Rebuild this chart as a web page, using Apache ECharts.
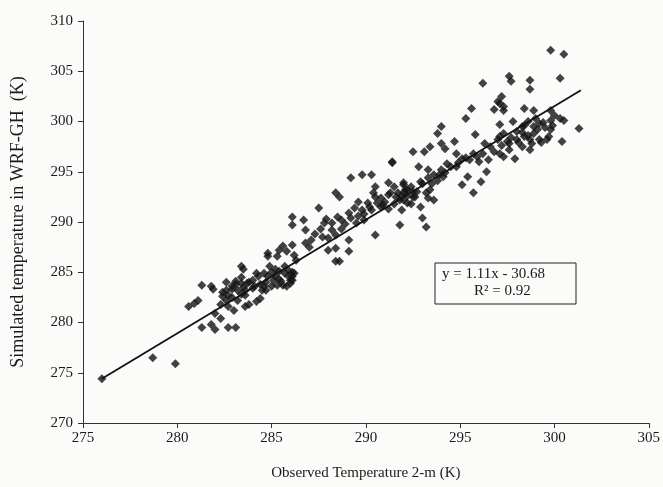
<!DOCTYPE html>
<html>
<head>
<meta charset="utf-8">
<script src="https://cdn.jsdelivr.net/npm/echarts@6/dist/echarts.min.js"></script>
<style>
  html, body { margin: 0; padding: 0; background: #fbfbfa; }
  #scatter { width: 663px; height: 487px; }
</style>
</head>
<body>
<div id="scatter"></div>
<script>
// observed (x) / simulated (y) temperatures, K
const obsTemp = [
  276.0, 278.7, 279.9,
  286.1, 285.6, 285.4, 285.8, 284.8, 284.8, 285.3, 286.2, 283.4, 283.5, 281.3, 281.8, 281.9, 281.1, 280.9, 280.6,
  282.6, 282.9, 283.2, 283.4, 282.7, 282.4, 282.6, 282.3, 282.7, 283.0, 283.6, 283.8, 284.2, 284.4, 284.0, 284.3,
  284.7, 283.7, 284.1, 285.4, 285.7, 286.0, 285.5, 285.2, 285.6, 285.0, 282.0, 282.3, 281.8, 282.0, 281.3, 282.7,
  283.1, 282.9, 284.7, 283.6, 283.4, 283.1, 284.6, 284.9, 283.4,
  291.4, 289.2, 289.8, 290.3, 290.5, 288.4, 288.6, 291.2, 291.5, 292.0, 292.1, 292.4, 291.7, 291.2, 290.8, 290.5,
  290.1, 289.6, 289.4, 289.8, 289.1, 289.2, 288.7, 288.5, 288.2, 287.8, 287.5, 286.7, 286.1, 286.1, 286.8, 288.2,
  288.4, 287.7, 287.1, 286.8, 287.0, 288.0, 288.4, 289.1, 289.1, 290.5, 291.8, 292.2, 292.5, 288.4, 286.3, 286.2,
  286.1, 290.8, 290.3,
  295.6, 295.3, 297.0, 296.8, 297.3, 294.0, 293.8, 295.8, 292.5, 293.1, 293.4, 294.0, 294.2, 294.7, 292.8, 293.3,
  293.6, 294.0, 294.5, 294.8, 295.1, 295.5, 295.9, 296.2, 296.6, 297.0, 297.3, 297.6, 297.1, 296.4, 296.1, 295.7,
  295.4, 295.1, 292.0, 292.2, 292.6, 293.3, 293.6, 292.9, 292.0, 291.9, 293.0, 293.2, 294.3, 294.8,
  299.8, 300.5, 297.6, 297.7, 298.7, 298.7, 300.3, 297.2, 297.1, 297.3, 298.4, 298.9, 299.8, 300.0, 300.3, 299.8,
  300.5, 301.3, 299.2, 298.6, 298.3, 297.8, 297.1, 298.0, 298.4, 298.0, 298.7, 299.8, 299.7, 300.4, 298.3, 297.6,
  298.7, 297.3, 297.9, 297.1, 299.1,
  291.4, 296.2, 288.6,
  285.2, 285.9, 285.1, 285.3, 286.0, 283.8, 284.0, 284.4, 284.5, 283.6, 284.2, 282.6, 282.9, 283.1, 282.4, 283.2,
  283.5, 290.6, 291.0, 291.3, 291.8, 290.2, 289.9, 289.6, 291.5, 292.0, 292.5, 292.7, 293.0, 293.4, 293.8, 294.1,
  292.2, 293.3, 294.9, 295.3, 295.7, 296.0, 298.3, 298.6, 298.9, 299.2, 298.8, 298.4, 299.4, 298.1, 299.0, 297.7,
  285.7, 285.9, 286.1, 285.4, 285.8, 286.1, 284.8, 284.6, 285.0,
  287.3, 287.6, 288.0, 288.7, 288.9, 289.5, 289.9, 287.9,
  290.9, 291.2, 291.6, 290.4, 291.9,
  292.9, 293.5, 293.9, 294.2, 293.2, 292.4,
  296.5, 296.8, 297.2, 296.3, 297.5,
  299.5, 299.9, 298.9, 299.3, 299.6
]
const simTemp = [
  274.4, 276.5, 275.9,
  287.7, 287.6, 287.2, 287.1, 286.9, 286.6, 286.6, 286.7, 285.6, 285.3, 283.7, 283.6, 283.3, 282.2, 281.9, 281.6,
  284.0, 283.6, 283.2, 282.8, 282.7, 282.6, 282.2, 281.8, 281.6, 281.2, 281.6, 281.8, 282.1, 282.4, 284.2, 284.6,
  284.0, 283.9, 283.6, 285.1, 284.9, 284.2, 284.1, 284.6, 283.7, 283.6, 280.9, 280.4, 279.8, 279.3, 279.5, 279.5,
  279.5, 283.3, 283.2, 282.7, 284.5, 284.1, 284.9, 285.6, 283.9,
  295.9, 294.4, 294.7, 294.7, 293.5, 292.9, 292.5, 293.9, 293.5, 293.7, 293.2, 293.5, 292.9, 292.7, 292.4, 292.5,
  291.9, 292.0, 291.4, 291.2, 290.9, 290.4, 290.2, 290.5, 289.9, 289.9, 291.4, 290.2, 290.5, 289.7, 289.2, 289.2,
  288.7, 288.5, 288.2, 287.9, 287.5, 287.2, 287.4, 288.2, 287.1, 288.7, 289.7, 291.9, 292.5, 286.1, 286.2, 284.9,
  284.2, 291.5, 291.2,
  301.3, 300.3, 302.0, 301.2, 301.5, 299.5, 298.8, 298.7, 297.0, 297.0, 297.5, 297.8, 297.3, 298.0, 295.5, 295.2,
  294.7, 295.2, 295.5, 296.8, 296.3, 296.2, 296.5, 296.8, 297.5, 298.2, 298.8, 297.8, 296.8, 295.0, 294.0, 292.9,
  294.5, 293.7, 293.9, 293.2, 292.5, 292.4, 292.2, 291.5, 292.2, 291.2, 290.4, 289.5, 295.8, 295.5,
  307.1, 306.7, 304.5, 304.0, 304.1, 303.2, 304.3, 302.5, 301.8, 301.1, 301.3, 301.1, 301.1, 300.6, 300.3, 300.1,
  300.1, 299.3, 299.8, 300.0, 299.5, 300.0, 299.7, 299.0, 298.5, 298.2, 298.2, 299.2, 298.5, 298.0, 297.5, 297.2,
  297.2, 296.5, 296.3, 298.5, 299.2,
  296.0, 303.8, 286.1,
  285.3, 284.6, 284.2, 283.7, 283.9, 284.0, 283.4, 283.8, 283.2, 283.2, 284.9, 283.2, 282.5, 283.8, 283.0, 282.2,
  283.5, 291.9, 292.0, 292.9, 292.2, 291.5, 290.8, 290.6, 291.8, 292.9, 293.0, 293.0, 293.8, 293.2, 294.1, 294.5,
  292.6, 294.4, 295.9, 296.4, 296.8, 296.0, 298.9, 298.6, 299.5, 298.2, 297.8, 299.6, 299.9, 297.9, 300.3, 298.4,
  285.6, 285.2, 285.0, 284.3, 283.6, 284.6, 284.6, 283.6, 285.0,
  288.8, 289.3, 288.4, 289.3, 289.8, 289.9, 290.2, 290.3,
  291.7, 291.3, 292.5, 292.9, 292.6,
  294.0, 293.8, 294.7, 294.9, 292.9, 291.8,
  296.2, 297.0, 297.6, 297.8, 298.0,
  299.4, 299.6, 298.8, 297.9, 298.2
]
// fitted line ends as drawn in the figure
const trendX = [276.0, 301.4]
const trendY = [274.4, 303.1]
const fitText = ['y = 1.11x - 30.68', 'R\u00b2 = 0.92']

const serif = '"Liberation Serif", "DejaVu Serif", serif'
const chart = echarts.init(document.getElementById('scatter'))
chart.setOption({
  backgroundColor: '#fbfbfa',
  animation: false,
  grid: { left: 83, right: 10, top: 21, bottom: 64 },
  xAxis: {
    type: 'value',
    min: 275,
    max: 305,
    interval: 5,
    name: 'Observed Temperature 2-m (K)',
    nameLocation: 'middle',
    nameGap: 43,
    nameTextStyle: { color: '#1a1a1a', fontSize: 15, fontFamily: serif },
    axisLine: { lineStyle: { color: '#333', width: 1 } },
    axisTick: { length: 5, lineStyle: { color: '#333' } },
    axisLabel: { color: '#1a1a1a', fontSize: 15, fontFamily: serif, margin: 8 },
    splitLine: { show: false }
  },
  yAxis: {
    type: 'value',
    min: 270,
    max: 310,
    interval: 5,
    name: 'Simulated temperature in WRF-GH  (K)',
    nameLocation: 'middle',
    nameGap: 56,
    nameTextStyle: { color: '#1a1a1a', fontSize: 18, fontFamily: serif },
    axisLine: { show: true, lineStyle: { color: '#333', width: 1 } },
    axisTick: { show: true, length: 5, lineStyle: { color: '#333' } },
    axisLabel: { color: '#1a1a1a', fontSize: 15, fontFamily: serif, margin: 10 },
    splitLine: { show: false }
  },
  graphic: [
    {
      type: 'rect',
      shape: { x: 435, y: 263, width: 141, height: 41 },
      style: { fill: '#fbfbfa', stroke: '#222', lineWidth: 1 },
      z: 10
    },
    {
      type: 'text',
      left: 442,
      top: 267,
      style: { text: fitText[0], font: '15px ' + serif, fill: '#1a1a1a' },
      z: 11
    },
    {
      type: 'text',
      left: 474,
      top: 284,
      style: { text: fitText[1], font: '15px ' + serif, fill: '#1a1a1a' },
      z: 11
    }
  ],
  series: [
    {
      name: 'obs-sim',
      type: 'scatter',
      symbol: 'diamond',
      symbolSize: 9,
      itemStyle: { color: '#141414' },
      data: obsTemp.map((x, i) => [x, simTemp[i]]),
      z: 3
    },
    {
      name: 'fit',
      type: 'line',
      showSymbol: false,
      lineStyle: { color: '#111', width: 1.8 },
      data: trendX.map((x, i) => [x, trendY[i]]),
      z: 4
    }
  ]
})
</script>
</body>
</html>
